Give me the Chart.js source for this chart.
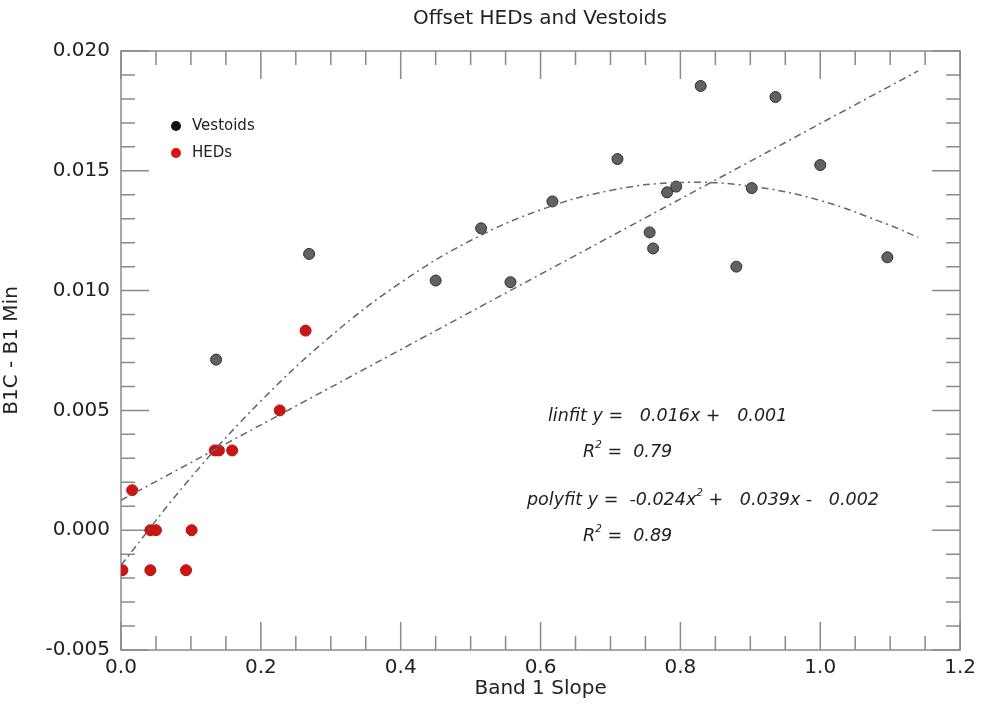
<!DOCTYPE html>
<html>
<head>
<meta charset="utf-8">
<script src="https://cdn.jsdelivr.net/npm/chart.js@4.4.1/dist/chart.umd.min.js"></script>
<style>
  html, body { margin: 0; padding: 0; background: #fff; }
  #wrap { width: 982px; height: 704px; }
</style>
</head>
<body>
<div id="wrap"><canvas id="chart" width="982" height="704"></canvas></div>
<script>
(function(){

  // vestoid points
  const vestoidX = [0.136, 0.269, 0.450, 0.515, 0.557, 0.617, 0.710, 0.756, 0.761, 0.781, 0.794, 0.829, 0.880, 0.902, 0.936, 1.000, 1.096];
  const vestoidY = [0.00712, 0.01153, 0.01042, 0.01260, 0.01035, 0.01372, 0.01549, 0.01243, 0.01176, 0.01410, 0.01434, 0.01854, 0.01100, 0.01428, 0.01808, 0.01524, 0.01139];

  // HED points
  const hedX = [0.002, 0.016, 0.042, 0.050, 0.101, 0.042, 0.093, 0.134, 0.140, 0.159, 0.227, 0.264];
  const hedY = [-0.00167, 0.00167, 0.0, 0.0, 0.0, -0.00167, -0.00167, 0.00333, 0.00333, 0.00333, 0.005, 0.00833];

  // fit lines
  const linFitX = [0.0, 1.14];
  const linFitY = [0.00125, 0.01917];
  const polyFitX = [0.0, 0.1, 0.2, 0.3, 0.4, 0.5, 0.6, 0.7, 0.8, 0.9, 1.0, 1.1, 1.14];
  const polyFitY = [-0.00146, 0.00220, 0.00539, 0.00810, 0.01033, 0.01209, 0.01337, 0.01418, 0.01451, 0.01436, 0.01376, 0.01272, 0.01222];

  const xTicks = [0.0, 0.2, 0.4, 0.6, 0.8, 1.0, 1.2];
  const yTicks = [-0.005, 0.0, 0.005, 0.010, 0.015, 0.020];
  const xMinorStep = 0.05;
  const yMinorStep = 0.001;

  const legendItems = ['Vestoids', 'HEDs'];
  const legendColors = ['#111111', '#dd1111'];

  const pts = (xs, ys) => xs.map((x, i) => ({ x: x, y: ys[i] }));

  const FRAME = '#8a8a8a';
  const FONT = "'DejaVu Sans', sans-serif";

  // frame + inward major/minor ticks on all four sides
  const framePlugin = {
    id: 'frame',
    beforeDatasetsDraw(chart) {
      const { ctx, chartArea: a, scales } = chart;
      const xs = scales.x, ys = scales.y;
      ctx.save();
      ctx.strokeStyle = FRAME;
      ctx.lineWidth = 1.5;
      ctx.strokeRect(a.left, a.top, a.right - a.left, a.bottom - a.top);
      ctx.beginPath();
      const nx = Math.round((xs.max - xs.min) / xMinorStep);
      for (let i = 0; i <= nx; i++) {
        const v = xs.min + i * xMinorStep;
        const px = xs.getPixelForValue(v);
        const len = (i % 4 === 0) ? 28 : 14;
        ctx.moveTo(px, a.bottom); ctx.lineTo(px, a.bottom - len);
        ctx.moveTo(px, a.top); ctx.lineTo(px, a.top + len);
      }
      const ny = Math.round((ys.max - ys.min) / yMinorStep);
      for (let i = 0; i <= ny; i++) {
        const v = ys.min + i * yMinorStep;
        const py = ys.getPixelForValue(v);
        const len = (i % 5 === 0) ? 28 : 14;
        ctx.moveTo(a.left, py); ctx.lineTo(a.left + len, py);
        ctx.moveTo(a.right, py); ctx.lineTo(a.right - len, py);
      }
      ctx.stroke();
      ctx.restore();
    }
  };

  // draws a row of text pieces, some as superscripts
  function drawRich(ctx, x, y, parts, size) {
    let cx = x;
    parts.forEach(p => {
      const sup = p[1];
      const s = sup ? size * 0.6 : size;
      ctx.font = 'italic ' + s + 'px ' + FONT;
      ctx.fillText(p[0], cx, sup ? y - size * 0.38 : y);
      cx += ctx.measureText(p[0]).width;
    });
  }

  const textPlugin = {
    id: 'texts',
    afterDraw(chart) {
      const { ctx } = chart;
      ctx.save();
      // title
      ctx.fillStyle = '#222';
      ctx.font = '20px ' + FONT;
      ctx.textAlign = 'center';
      ctx.textBaseline = 'middle';
      ctx.fillText('Offset HEDs and Vestoids', 540, 19);

      // legend
      ctx.textAlign = 'left';
      ctx.font = '15px ' + FONT;
      legendItems.forEach((lbl, i) => {
        const y = 126 + i * 27;
        ctx.beginPath();
        ctx.fillStyle = legendColors[i];
        ctx.arc(176, y, 5, 0, Math.PI * 2);
        ctx.fill();
        ctx.fillStyle = '#222';
        ctx.fillText(lbl, 192, y);
      });

      // fit annotations
      ctx.fillStyle = '#222';
      ctx.textBaseline = 'middle';
      const fs = 17.5;
      drawRich(ctx, 548, 416, [['linfit y =   0.016x +   0.001', false]], fs);
      drawRich(ctx, 583, 452, [['R', false], ['2', true], [' =  0.79', false]], fs);
      drawRich(ctx, 527, 500, [['polyfit y =  -0.024x', false], ['2', true], [' +   0.039x -   0.002', false]], fs);
      drawRich(ctx, 583, 536, [['R', false], ['2', true], [' =  0.89', false]], fs);
      ctx.restore();
    }
  };

  const fitLine = {
    showLine: true,
    pointRadius: 0,
    borderColor: '#666666',
    borderWidth: 1.5,
    borderDash: [7, 4, 2, 4],
    fill: false
  };

  new Chart(document.getElementById('chart'), {
    type: 'scatter',
    data: {
      datasets: [
        Object.assign({ label: 'linfit', data: pts(linFitX, linFitY), order: 0, tension: 0 }, fitLine),
        Object.assign({ label: 'polyfit', data: pts(polyFitX, polyFitY), order: 1, tension: 0.4 }, fitLine),
        {
          label: 'HEDs', data: pts(hedX, hedY), order: 2,
          pointRadius: 5.5, pointBackgroundColor: '#cc1414', pointBorderColor: '#b51010', pointBorderWidth: 1
        },
        {
          label: 'Vestoids', data: pts(vestoidX, vestoidY), order: 3,
          pointRadius: 5.5, pointBackgroundColor: '#616161', pointBorderColor: '#2e2e2e', pointBorderWidth: 1
        }
      ]
    },
    options: {
      responsive: false,
      animation: false,
      layout: { padding: { top: 51, right: 20, left: 0, bottom: 0 } },
      plugins: { legend: { display: false }, tooltip: { enabled: false }, title: { display: false } },
      scales: {
        x: {
          type: 'linear', min: 0, max: 1.2,
          afterBuildTicks: s => { s.ticks = xTicks.map(v => ({ value: v })); },
          afterFit: s => { s.height = 54; },
          grid: { display: false, drawTicks: false },
          border: { display: false },
          ticks: {
            autoSkip: false, maxRotation: 0, padding: 6, color: '#222',
            font: { family: FONT, size: 20 },
            callback: v => Number(v).toFixed(1)
          },
          title: {
            display: true, text: 'Band 1 Slope', color: '#222',
            font: { family: FONT, size: 20 }, padding: { top: 0, bottom: 3 }
          }
        },
        y: {
          type: 'linear', min: -0.005, max: 0.020,
          afterBuildTicks: s => { s.ticks = yTicks.map(v => ({ value: v })); },
          afterFit: s => { s.width = 121; },
          grid: { display: false, drawTicks: false },
          border: { display: false },
          ticks: {
            autoSkip: false, padding: 11, color: '#222',
            font: { family: FONT, size: 20 },
            callback: v => Number(v).toFixed(3)
          },
          title: {
            display: true, text: 'B1C - B1 Min', color: '#222',
            font: { family: FONT, size: 20 }, padding: { top: 0, bottom: 0 }
          }
        }
      }
    },
    plugins: [framePlugin, textPlugin]
  });
})();
</script>
</body>
</html>
